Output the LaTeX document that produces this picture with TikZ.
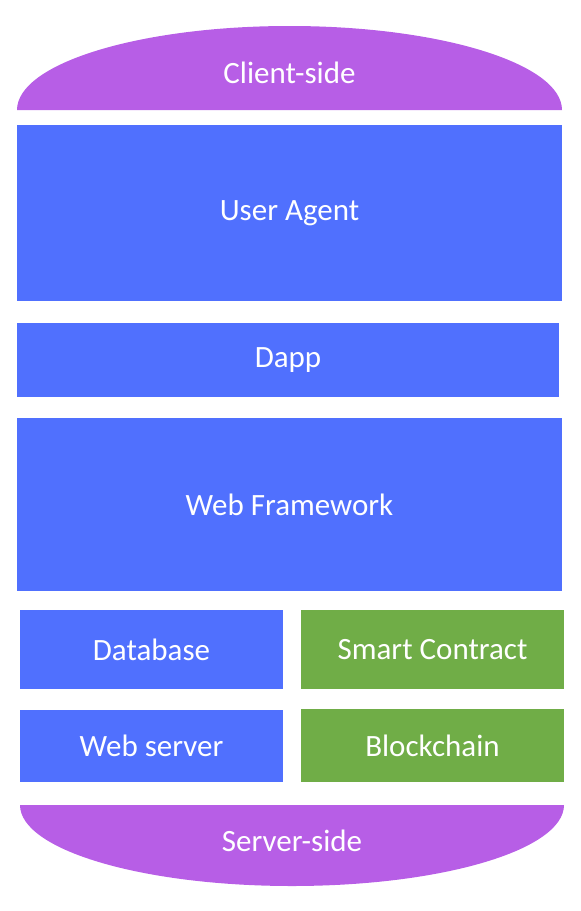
\documentclass[tikz,border=0pt]{standalone}
\usepackage{fontspec}
\setmainfont{Carlito}
\definecolor{layerblue}{HTML}{5070FE}
\definecolor{chaingreen}{HTML}{70AD47}
\definecolor{sidepurple}{HTML}{B75EE6}
\begin{document}
\begin{tikzpicture}[x=1pt, y=-1pt,
  layer/.style={fill=layerblue, text=white, inner sep=0pt, font=\fontsize{31}{36}\selectfont},
  chain/.style={layer, fill=chaingreen},
  side/.style={text=white, inner sep=0pt, font=\fontsize{31}{36}\selectfont}]
\useasboundingbox (0,0) rectangle (581,911);

% client and server caps
\fill[sidepurple] (17,110) arc[start angle=180, end angle=360, x radius=272.5, y radius=84] -- cycle;
\fill[sidepurple] (20,805) arc[start angle=180, end angle=0, x radius=272, y radius=81] -- cycle;
\node[side] (client) at (289.5,73) {Client-side};
\node[side] (server) at (292,841) {Server-side};

% layers
\node[layer, minimum width=545, minimum height=176] (agent) at (289.5,213) {\raisebox{-2pt}{User Agent}};
\node[layer, minimum width=542, minimum height=74] (dapp) at (288,360) {\raisebox{-2pt}{Dapp}};
\node[layer, minimum width=545, minimum height=173] (framework) at (289.5,504.5) {\raisebox{-2pt}{Web Framework}};
\node[layer, minimum width=263, minimum height=79] (database) at (151.5,649.5) {\raisebox{-1pt}{Database}};
\node[chain, minimum width=263, minimum height=79] (contract) at (432.5,649.5) {\raisebox{-1pt}{Smart Contract}};
\node[layer, minimum width=263, minimum height=72] (webserver) at (151.5,746) {Web server};
\node[chain, minimum width=263, minimum height=73] (blockchain) at (432.5,745.5) {Blockchain};
\end{tikzpicture}
\end{document}
